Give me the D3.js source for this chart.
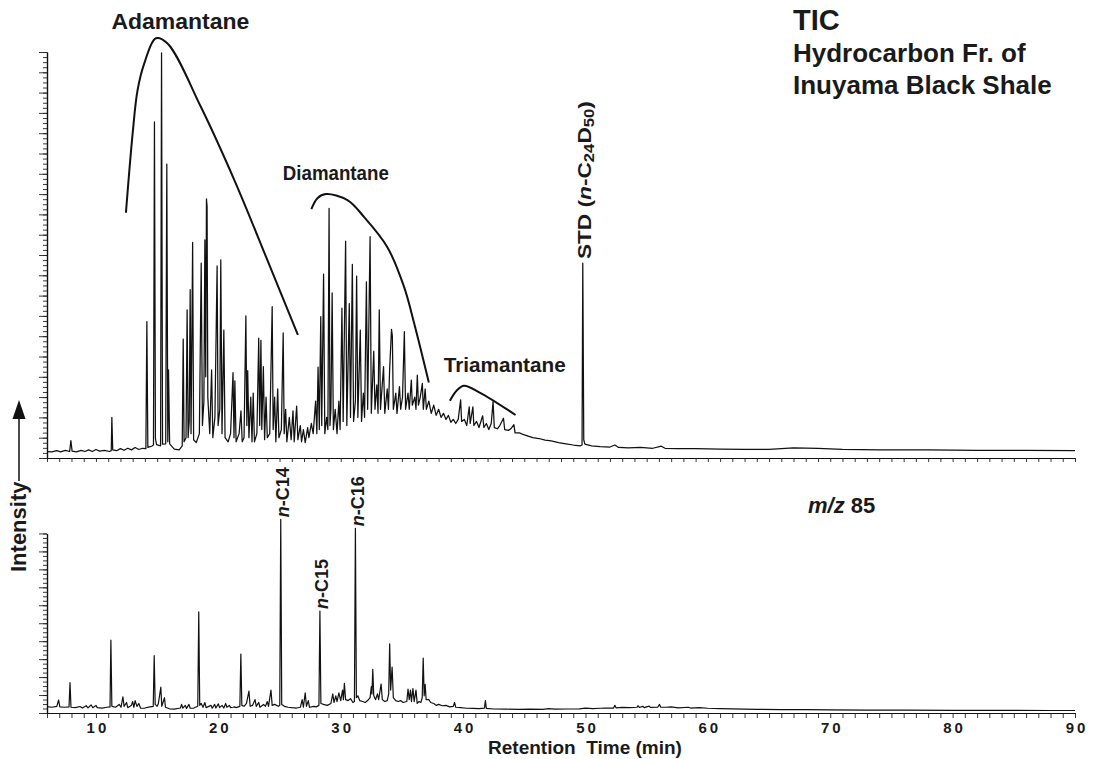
<!DOCTYPE html>
<html>
<head>
<meta charset="utf-8">
<script src="https://cdn.jsdelivr.net/npm/d3@7"></script>
<style>
body{margin:0;background:#fff}
svg text{font-family:"Liberation Sans",Arial,Helvetica,sans-serif;font-weight:bold;fill:#1a1a1a}
</style>
</head>
<body>
<div id="chart"></div>
<script>
// TIC trace, [retention time (min), intensity (% of axis)]
const ticTrace=[
[6.0,1.6],[6.4,1.5],[6.8,1.8],[7.1,1.5],[7.5,1.9],[7.85,1.6],[7.95,4.3],[8.05,1.7],[8.4,1.5],[8.8,1.9],
[9.1,1.6],[9.4,2.0],[9.7,1.6],[10.0,2.1],[10.3,1.7],[10.7,1.9],[11.1,1.6],[11.25,1.8],[11.3,10.0],[11.37,2.0],
[11.7,1.8],[12.0,2.3],[12.3,1.9],[12.6,2.4],[12.9,2.0],[13.2,2.6],[13.5,2.1],[13.8,2.4],[14.08,2.3],
[14.16,33.6],[14.24,2.6],[14.55,2.9],[14.7,3.2],[14.78,82.8],[14.86,4.8],[14.95,3.3],[15.28,3.0],[15.36,99.8],
[15.44,3.4],[15.7,3.5],[15.79,72.4],[15.87,4.0],[15.93,21.7],[16.02,3.5],[16.4,2.2],[16.8,2.0],[17.05,3.0],
[17.13,29.3],[17.2,4.0],[17.36,5],[17.45,36.5],[17.53,5],[17.62,9],[17.7,41.5],[17.77,6],[17.9,53.1],[17.98,4.5],
[18.2,3.8],[18.45,6],[18.6,48],[18.7,8],[18.82,14],[18.9,53.7],[18.97,20],[19.03,63.8],[19.08,62],[19.14,15],
[19.3,6],[19.45,21.7],[19.55,5],[19.72,10],[19.9,47.3],[19.98,8],[20.12,12],[20.2,48.8],[20.3,6],[20.45,31.5],
[20.55,5],[20.8,4],[21.0,6],[21.2,21],[21.28,5],[21.35,19],[21.45,4],[21.7,6],[21.85,11.6],[21.95,4],[22.1,5],
[22.25,35],[22.33,8],[22.4,21.5],[22.5,5],[22.65,15],[22.75,4],[22.85,16],[22.95,4],[23.15,6],[23.3,29.5],
[23.38,8],[23.48,29],[23.55,7],[23.68,22.5],[23.78,4.5],[23.9,15],[24.0,5],[24.2,6],[24.4,37.3],[24.48,7],
[24.6,15],[24.7,4],[24.85,17],[24.95,5],[25.15,7],[25.3,30.8],[25.38,6],[25.5,12],[25.6,4],[25.8,10],[25.95,4.5],
[26.1,11.6],[26.2,4],[26.4,12.8],[26.5,4.5],[26.7,8],[26.8,4],[26.95,7],[27.1,3.8],[27.3,7.5],[27.4,5],[27.6,8.5],
[27.75,6],[27.95,14],[28.05,6],[28.15,22.4],[28.25,7],[28.37,34.8],[28.45,8],[28.6,45.3],[28.7,6],[28.85,10],
[28.95,7],[29.05,61.5],[29.12,8],[29.2,12],[29.3,40.7],[29.4,7],[29.55,12],[29.7,6],[29.85,14],[29.95,7],
[30.1,36.9],[30.2,9],[30.4,53.4],[30.5,8],[30.7,38],[30.8,10],[30.95,47.7],[31.05,9],[31.2,14],[31.3,44.8],
[31.4,10],[31.6,31.5],[31.7,9],[31.85,16],[31.95,10],[32.1,43.4],[32.2,12],[32.4,54.5],[32.5,11],[32.7,26.3],
[32.8,12],[32.95,18],[33.05,11],[33.15,36.5],[33.25,12],[33.5,22.5],[33.6,11],[33.8,17],[33.9,12],[34.0,22],
[34.15,31.7],[34.22,30],[34.3,12],[34.5,16],[34.6,11],[34.8,17.6],[34.9,12],[35.05,15],[35.2,31.1],[35.3,12],
[35.5,16],[35.6,12],[35.77,19.2],[35.85,13],[36.05,15],[36.15,12],[36.26,20.4],[36.35,13],[36.5,15],[36.67,18.4],
[36.75,12],[36.9,17],[37.0,12],[37.2,14],[37.4,11],[37.6,13],[37.8,10.5],[38.0,12],[38.2,10],[38.4,11],[38.6,9.5],
[38.8,10.5],[39.0,8.8],[39.2,9.5],[39.4,8.5],[39.6,9.5],[39.8,14.3],[39.88,9],[40.1,9.5],[40.3,8],[40.5,12.6],
[40.58,8.5],[40.8,12.6],[40.88,8],[41.1,9],[41.3,7.5],[41.6,10.4],[41.7,7.5],[41.9,8.5],[42.1,7],[42.3,8.5],
[42.45,13.9],[42.55,7.5],[42.8,7.2],[43.0,8],[43.3,9.8],[43.4,7],[43.7,6.8],[43.9,7.2],[44.15,8.2],[44.25,6.2],
[44.6,6.2],[44.9,5.8],[45.3,5.4],[45.7,5.0],[46.2,4.8],[46.7,4.4],[47.2,4.2],[47.8,3.8],[48.4,3.5],[49.0,3.2],
[49.6,3.0],[49.72,3.2],[49.78,48],[49.86,4.5],[49.95,3.4],[50.5,3.0],[51.2,2.8],[52.0,2.7],[52.4,3.2],[52.7,2.6],
[53.5,2.5],[54.5,2.6],[55.5,2.4],[56.2,2.9],[56.5,2.4],[57.5,2.3],[59,2.3],[61,2.2],[63,2.1],[65,2.1],
[67,2.5],[69,2.4],[71,2.1],[74,2.0],[78,2.0],[82,1.9],[86,1.9],[90,1.8]
]

// m/z 85 trace, [retention time (min), intensity (% of axis)]
const mz85Trace=[
[6.0,3.3],[6.4,3.0],[6.8,3.5],[6.95,6.8],[7.05,3.2],[7.4,3.0],[7.8,3.2],[7.88,15.9],[7.96,3.0],[8.3,2.8],
[8.7,3.4],[8.9,2.6],[9.2,3.8],[9.35,2.7],[9.6,4.2],[9.75,2.8],[10.0,4.0],[10.1,2.8],[10.5,2.6],[10.9,3.0],
[11.15,3.2],[11.22,38.2],[11.3,3.5],[11.6,3.0],[11.9,4.5],[12.05,3],[12.2,8.5],[12.3,3.5],[12.5,5.5],[12.6,2.8],
[12.9,4],[13.0,6],[13.1,3],[13.2,6.5],[13.35,3.5],[13.5,5],[13.65,2.5],[14.0,2.6],[14.4,3.2],[14.68,3.5],
[14.76,30],[14.84,4.5],[15.0,3.5],[15.1,5],[15.3,13.5],[15.38,3.5],[15.6,8],[15.68,3],[16.0,2.2],[16.4,2.0],
[16.9,2.6],[17.0,4.5],[17.1,2.5],[17.3,4],[17.4,2.4],[17.6,4.5],[17.7,2.5],[18.0,2.6],[18.32,3.5],[18.4,53],
[18.48,4],[18.6,5],[18.75,3],[18.9,5.5],[19.0,2.8],[19.4,4],[19.5,2.5],[19.7,4.5],[19.8,2.6],[20.0,4.8],
[20.1,2.8],[20.3,4],[20.45,2.6],[20.6,5],[20.7,3],[20.9,4],[21.0,2.8],[21.2,3],[21.35,3.2],[21.44,2.8],
[21.76,3.5],[21.84,30.9],[21.92,4],[22.1,3.5],[22.3,5],[22.5,11.5],[22.6,3.5],[22.8,4],[23.0,7],[23.1,3.5],
[23.3,5.5],[23.4,3],[23.7,4.5],[23.85,3.5],[24.0,6],[24.1,3.5],[24.3,12],[24.4,4],[24.6,4.5],[24.9,3.5],
[25.02,4],[25.1,101.4],[25.18,4.5],[25.4,3.5],[25.7,3],[26.0,2.8],[26.4,2.6],[26.7,3],[26.85,7],[26.95,3],
[27.1,10.6],[27.2,3.5],[27.35,6.5],[27.45,3],[27.8,3.5],[28.0,3.2],[28.22,4],[28.3,53.4],[28.38,5],[28.6,4.5],
[28.9,4],[29.2,5],[29.35,10],[29.45,5.5],[29.6,9],[29.7,6],[29.85,10.5],[30.0,6.5],[30.15,12],[30.22,7],
[30.3,15.5],[30.4,7],[30.6,6.5],[30.8,7.5],[31.0,5.5],[31.12,6],[31.2,96.7],[31.28,8],[31.4,9],[31.55,6.5],
[31.8,6],[32.0,5.5],[32.2,6.5],[32.4,8],[32.5,13.8],[32.55,10],[32.62,22.9],[32.7,9],[32.85,7],[33.0,10],
[33.1,7],[33.3,15.2],[33.4,7],[33.6,6],[33.8,6.5],[33.92,10],[34.0,36.2],[34.08,12],[34.2,24],[34.3,8],
[34.5,6.5],[34.7,6],[34.9,6.5],[35.1,5.5],[35.4,6],[35.5,12.5],[35.6,7],[35.7,12],[35.78,6],[35.9,12.8],
[36.0,6],[36.15,12],[36.25,5],[36.4,6],[36.55,5.5],[36.66,8],[36.74,28.8],[36.82,9],[36.9,15],[36.98,7],
[37.2,7],[37.35,5.5],[37.6,5],[37.8,4],[38.0,4.5],[38.3,3.8],[38.6,4],[38.9,3.2],[39.2,3.5],[39.3,5.5],
[39.4,3],[39.8,2.8],[40.3,2.5],[40.8,2.4],[41.3,2.3],[41.75,2.6],[41.82,6.5],[41.9,2.4],[42.5,2.1],[43.5,2.0],
[44.5,1.9],[45.5,2.0],[46.5,1.9],[47.0,2.3],[47.5,2.0],[48.5,2.1],[49.5,2.2],[50.0,2.6],[50.6,2.3],[51.2,2.5],
[51.6,2.6],[52.3,2.6],[52.4,4.0],[52.5,2.7],[53,2.9],[53.6,2.8],[54.2,3.0],[54.3,3.8],[54.4,2.9],[54.7,3.5],
[54.8,2.8],[55.2,3.6],[55.3,2.9],[55.9,3.0],[56.05,4.5],[56.15,3.0],[56.6,3.0],[57,3.2],[57.6,2.7],[58.4,3.0],
[58.6,2.6],[59.3,2.8],[60,2.5],[61,2.3],[62,2.2],[63,2.0],[64,1.9],[66,1.8],[68,1.8],[70,1.6],
[73,1.5],[76,1.5],[80,1.4],[84,1.4],[88,1.3],[90,1.3]
]

// envelope curves drawn over the TIC, [time, intensity]
const adamantaneHump=[[12.45,60.4],[13.0,80],[13.4,90.6],[13.95,97.2],[14.9,103.4],[15.85,102.1],[18.57,86.5],[21.3,68.5],[24.0,48.8],[26.5,30.3]]
const diamantaneHump=[[27.6,61.3],[28.1,64.0],[28.78,65.0],[30.55,63.5],[31.9,59.4],[33.8,52],[35.17,42.2],[36.0,33.2],[37.2,18.6]]
const triamantaneHump=[[38.92,14.1],[39.5,16.7],[40.07,17.8],[41.43,16],[44.29,10.6]]

const xLabelTicks=[10,20,30,40,50,60,70,80,90]
const mzPeakNames=["C14","C15","C16"]
const mzPeakTimes=[25.1,28.3,31.2]
const mzPeakHeights=[101.4,53.4,96.7]
const stdTime=49.78
const stdHeight=48

const width=1095
const height=759

const svg=d3.select("#chart")
.append("svg")
.attr("width",width)
.attr("height",height)

const x=d3.scaleLinear().domain([6,90]).range([47,1075])
const yTic=d3.scaleLinear().domain([0,100]).range([458,52])
const yMz=d3.scaleLinear().domain([0,100]).range([713,522])
// the ruler of the lower panel stops a little below the tallest peak
const yMzAxis=yMz.copy().domain([0,94]).range([713,yMz(94)])

// axes
function xTicks(y0,size){
svg.append("g")
.attr("transform",`translate(0,${y0})`)
.call(d3.axisBottom(x).tickValues(d3.range(6,91)).tickSize(size).tickSizeOuter(0).tickFormat(""))
}

function yTicks(scale,top,minor,major){
svg.append("g")
.attr("transform","translate(47,0)")
.call(d3.axisLeft(scale).tickValues(d3.range(0,top+0.01,minor)).tickSize(4).tickSizeOuter(0).tickFormat(""))
svg.append("g")
.attr("transform","translate(47,0)")
.call(d3.axisLeft(scale).tickValues(d3.range(0,top+0.01,major)).tickSize(8).tickSizeOuter(0).tickFormat(""))
}

xTicks(458,4)
xTicks(713,5)
yTicks(yTic,100,1.25,5)
yTicks(yMzAxis,94,2.35,9.4)

svg.selectAll(".domain").attr("stroke","#111").attr("stroke-width",1.2)
svg.selectAll(".tick line").attr("stroke","#222").attr("stroke-width",0.9)

svg.append("g")
.attr("transform","translate(0,713)")
.call(d3.axisBottom(x).tickValues(xLabelTicks).tickSize(0).tickPadding(9).tickFormat(d3.format("d")))
.call(g=>g.select(".domain").remove())
.selectAll("text")
.attr("dx",1.5)
.style("font-size","15px")
.style("letter-spacing","3px")
.style("fill","#1a1a1a")

svg.append("text")
.attr("x",585)
.attr("y",754)
.attr("text-anchor","middle")
.style("font-size","19px")
.style("white-space","pre")
.text("Retention  Time (min)")

// traces
const ticLine=d3.line().x(d=>x(d[0])).y(d=>yTic(d[1]))
const mzLine=d3.line().x(d=>x(d[0])).y(d=>yMz(d[1]))

svg.append("path")
.datum(ticTrace)
.attr("d",ticLine)
.attr("fill","none")
.attr("stroke","#111")
.attr("stroke-width",1.25)
.attr("stroke-linejoin","round")

svg.append("path")
.datum(mz85Trace)
.attr("d",mzLine)
.attr("fill","none")
.attr("stroke","#111")
.attr("stroke-width",1.2)
.attr("stroke-linejoin","round")

// envelopes
const humpLine=d3.line().curve(d3.curveCatmullRom.alpha(0.5)).x(d=>x(d[0])).y(d=>yTic(d[1]))

;[adamantaneHump,diamantaneHump,triamantaneHump].forEach(h=>{
svg.append("path")
.datum(h)
.attr("d",humpLine)
.attr("fill","none")
.attr("stroke","#111")
.attr("stroke-width",2)
})

const humpText=[
{name:"Adamantane",t:16.9,v:105.6,size:22,len:138},
{name:"Diamantane",t:29.6,v:68.5,size:20,len:106},
{name:"Triamantane",t:43.4,v:21.2,size:20,len:122}
]

svg.selectAll(".humpLabel")
.data(humpText)
.enter()
.append("text")
.attr("class","humpLabel")
.attr("x",d=>x(d.t)-d.len/2)
.attr("y",d=>yTic(d.v))
.attr("textLength",d=>d.len)
.attr("lengthAdjust","spacingAndGlyphs")
.style("font-size",d=>d.size+"px")
.text(d=>d.name)

// STD label
const std=svg.append("text")
.attr("transform",`translate(${x(stdTime)+8},${yTic(stdHeight)-4}) rotate(-90)`)
.attr("textLength",158)
.attr("lengthAdjust","spacingAndGlyphs")
.style("font-size","19px")
std.append("tspan").text("STD (")
std.append("tspan").style("font-style","italic").text("n")
std.append("tspan").text("-C")
std.append("tspan").attr("dy",3).style("font-size","14px").text("24")
std.append("tspan").attr("dy",-3).text("D")
std.append("tspan").attr("dy",3).style("font-size","14px").text("50")
std.append("tspan").attr("dy",-3).text(")")

// n-alkane labels
mzPeakNames.forEach((name,i)=>{
const t=svg.append("text")
.attr("transform",`translate(${x(mzPeakTimes[i])+8.5},${yMz(mzPeakHeights[i])-2}) rotate(-90)`)
.style("font-size","18px")
t.append("tspan").style("font-style","italic").text("n")
t.append("tspan").text("-"+name)
})

// panel titles
svg.append("text").attr("x",793).attr("y",30).style("font-size","29px").text("TIC")
svg.append("text").attr("x",793).attr("y",62).style("font-size","26px").text("Hydrocarbon Fr. of")
svg.append("text").attr("x",793).attr("y",94).style("font-size","26px").text("Inuyama Black Shale")

const mz=svg.append("text").attr("x",808).attr("y",513).style("font-size","22px")
mz.append("tspan").style("font-style","italic").text("m/z")
mz.append("tspan").text(" 85")

// intensity label with arrow
svg.append("text")
.attr("transform","translate(26,572) rotate(-90)")
.style("font-size","22px")
.text("Intensity")

svg.append("line")
.attr("x1",19).attr("y1",481)
.attr("x2",19).attr("y2",416)
.attr("stroke","#111")
.attr("stroke-width",1.5)

svg.append("path")
.attr("d","M12.5,419 L25.5,419 L19,400 Z")
.attr("fill","#111")
</script>
</body>
</html>
